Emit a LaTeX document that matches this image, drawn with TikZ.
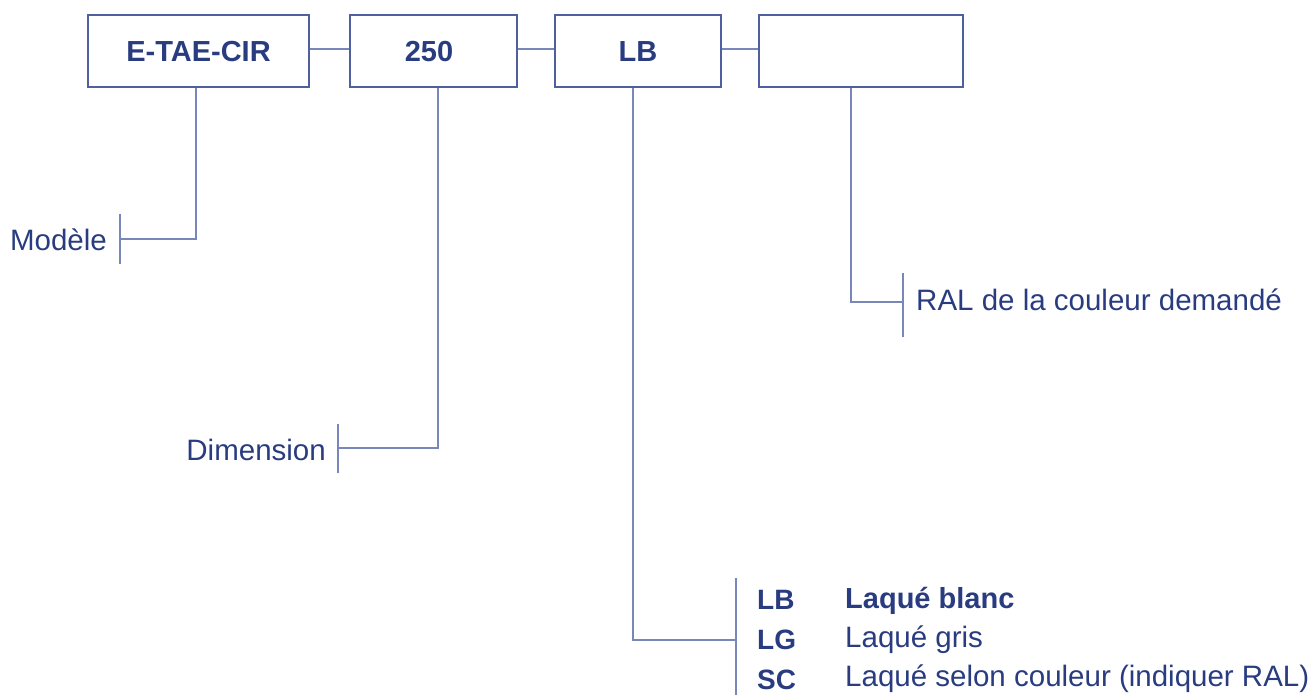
\documentclass[tikz,border=0pt]{standalone}
\usepackage{fontspec}
\setmainfont{Liberation Sans}
\definecolor{txtblue}{RGB}{42,60,128}
\definecolor{boxblue}{RGB}{80,95,158}
\definecolor{lineblue}{RGB}{120,135,185}
\begin{document}
\begin{tikzpicture}[x=1pt,y=-1pt,
  box/.style={draw=boxblue,line width=1.3pt,minimum height=72pt,inner sep=0pt,
    text=txtblue,font=\fontsize{29}{34}\selectfont\bfseries,text height=21pt,text depth=0pt},
  conn/.style={draw=lineblue,line width=1.3pt},
  lab/.style={inner sep=0pt,text=txtblue,font=\fontsize{29.5}{34}\selectfont},
  code/.style={inner sep=0pt,text=txtblue,font=\fontsize{28}{34}\selectfont\bfseries}]
\useasboundingbox (0,0) rectangle (1314,695);
% boxes
\node[box,minimum width=221pt] (b1) at (198.5,51) {E-TAE-CIR};
\node[box,minimum width=167pt] (b2) at (433.5,51) {250\kern9pt\null};
\node[box,minimum width=166pt] (b3) at (638,51) {LB};
\node[box,minimum width=204pt] (b4) at (861,51) {};
% links between boxes
\draw[conn] ([yshift=2pt]b1.east) -- ([yshift=2pt]b2.west);
\draw[conn] ([yshift=2pt]b2.east) -- ([yshift=2pt]b3.west);
\draw[conn] ([yshift=2pt]b3.east) -- ([yshift=2pt]b4.west);
% Modele
\coordinate (m1) at (196,239);
\coordinate (m2) at (120,239);
\coordinate (mt) at (120,214);
\coordinate (mb) at (120,264);
\draw[conn] (b1.south -| m1) -- (m1) -- (m2);
\draw[conn] (mt) -- (mb);
\node[lab,anchor=base east] (tmod) at (107,250) {Modèle};
% Dimension
\coordinate (d1) at (438,448);
\coordinate (d2) at (338,448);
\coordinate (dt) at (338,424);
\coordinate (db) at (338,473);
\draw[conn] (b2.south -| d1) -- (d1) -- (d2);
\draw[conn] (dt) -- (db);
\node[lab,anchor=base east] (tdim) at (326,460) {Dimension};
% RAL
\coordinate (r1) at (851,302);
\coordinate (r2) at (903,302);
\coordinate (rt) at (903,273);
\coordinate (rb) at (903,337);
\draw[conn] (b4.south -| r1) -- (r1) -- (r2);
\draw[conn] (rt) -- (rb);
\node[lab,anchor=base west] (tral) at (916,310) {RAL de la couleur demandé};
% Finish
\coordinate (f1) at (633,640);
\coordinate (f2) at (736,640);
\coordinate (ft) at (736,578);
\coordinate (fb) at (736,695);
\draw[conn] (b3.south -| f1) -- (f1) -- (f2);
\draw[conn] (ft) -- (fb);
\node[code,anchor=base west] (cLB) at (757,609) {LB};
\node[code,anchor=base west] (cLG) at (757,649) {LG};
\node[code,anchor=base west] (cSC) at (757,689) {SC};
\node[lab,anchor=base west,font=\fontsize{29}{34}\selectfont\bfseries] (dLB) at (845,608) {Laqué blanc};
\node[lab,anchor=base west] (dLG) at (845,647) {Laqué gris};
\node[lab,anchor=base west] (dSC) at (845,686) {Laqué selon couleur (indiquer RAL)};
\end{tikzpicture}
\end{document}
